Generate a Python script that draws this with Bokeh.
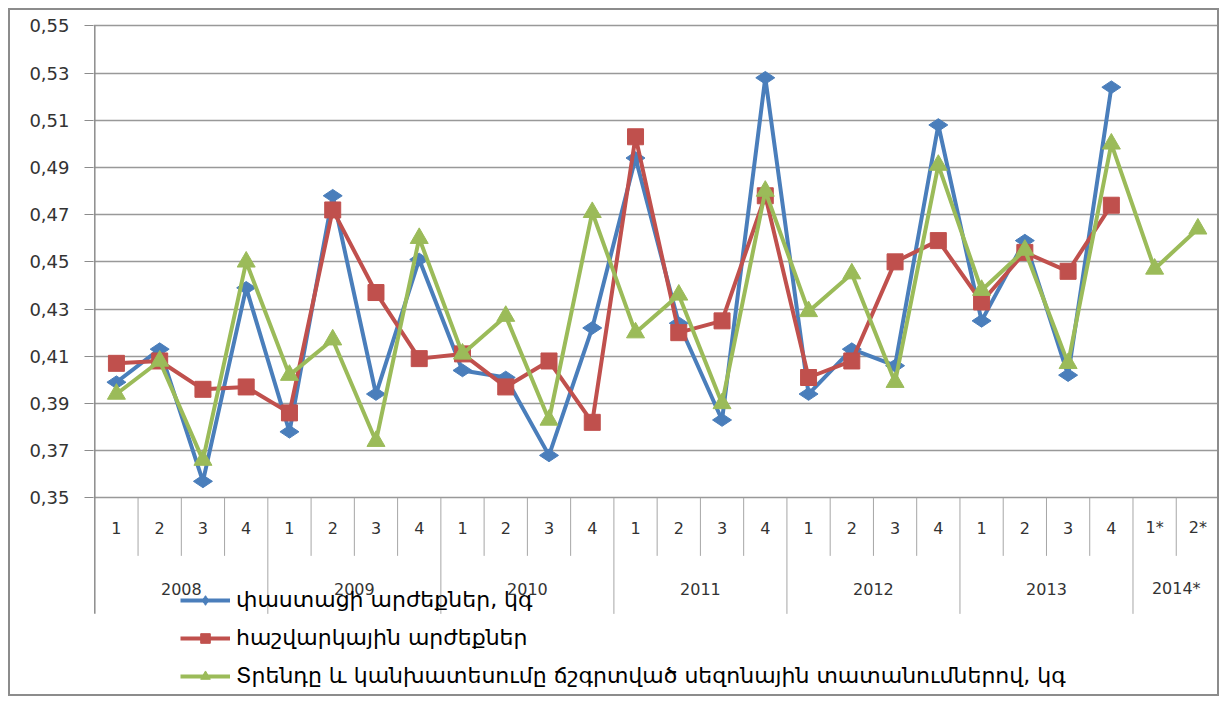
import math
from bokeh.plotting import figure
from bokeh.models import Range1d, FixedTicker, CustomJSTickFormatter, Legend, LegendItem
from bokeh.core.properties import value
from bokeh.embed import file_html
from bokeh.resources import INLINE

# ---------------- data ----------------
quarters = ["1", "2", "3", "4"] * 6 + ["1*", "2*"]
years = ["2008", "2009", "2010", "2011", "2012", "2013", "2014*"]
year_sizes = [4, 4, 4, 4, 4, 4, 2]

actual = [0.399, 0.413, 0.357, 0.439, 0.378, 0.478, 0.394, 0.451,
          0.404, 0.401, 0.368, 0.422, 0.494, 0.424, 0.383, 0.528,
          0.394, 0.413, 0.406, 0.508, 0.425, 0.459, 0.402, 0.524]
calculated = [0.407, 0.408, 0.396, 0.397, 0.386, 0.472, 0.437, 0.409,
              0.411, 0.397, 0.408, 0.382, 0.503, 0.420, 0.425, 0.478,
              0.401, 0.408, 0.450, 0.459, 0.433, 0.454, 0.446, 0.474]
trend = [0.394, 0.408, 0.366, 0.450, 0.402, 0.417, 0.374, 0.460,
         0.411, 0.427, 0.383, 0.471, 0.420, 0.436, 0.390, 0.480,
         0.429, 0.445, 0.399, 0.491, 0.438, 0.455, 0.407, 0.500,
         0.447, 0.464]

names = ["փաստացի արժեքներ, կգ",
         "հաշվարկային արժեքներ",
         "Տրենդը և կանխատեսումը ճշգրտված սեզոնային տատանումներով, կգ"]
y_ticks = [0.35, 0.37, 0.39, 0.41, 0.43, 0.45, 0.47, 0.49, 0.51, 0.53, 0.55]

# ---------------- layout ----------------
W, H = 1211, 688
PXU = 2360.0           # pixels per y unit
TOP = 13
BOT = 2
frame_h = H - TOP - BOT
y_end = 0.551
y_start = y_end - frame_h / PXU
y0 = min(y_ticks)

p = figure(width=W, height=H, output_backend="svg", toolbar_location=None,
           x_range=Range1d(-0.53, len(quarters) - 0.5),
           y_range=Range1d(y_start, y_end),
           min_border_left=83, min_border_right=2,
           min_border_top=TOP, min_border_bottom=BOT,
           x_axis_location=None)
p.styles = {"border": "2px solid #8c8c8c", "margin-left": "8px", "margin-top": "8px"}
p.outline_line_color = None
p.xgrid.visible = False

ax = p.yaxis[0]
ax.ticker = FixedTicker(ticks=y_ticks)
ax.formatter = CustomJSTickFormatter(code="return tick.toFixed(2).replace('.', ',');")
ax.axis_line_color = None
ax.major_tick_out = 9
ax.major_tick_in = 0
ax.major_tick_line_color = "#8c8c8c"
ax.minor_tick_line_color = None
ax.major_label_standoff = 15
ax.major_label_text_font = "DejaVu Sans"
ax.major_label_text_font_size = "18px"
ax.major_label_text_color = "#333333"

p.ygrid.grid_line_color = "#999999"
p.ygrid.grid_line_width = 1.5

# category axis drawn below the value range
q_label_y = y0 - 30 / PXU
yr_label_y = y0 - 91 / PXU
short_bot = y0 - 58 / PXU
long_bot = y0 - 116 / PXU

xs = list(range(len(quarters)))
p.text(x=xs, y=[q_label_y] * len(xs), text=quarters,
       text_align="center", text_baseline="middle",
       text_font=value("DejaVu Sans"), text_font_size="16px", text_color="#333333")

bounds = []
start = 0
centers = []
for n in year_sizes:
    centers.append(start + (n - 1) / 2)
    start += n
    bounds.append(start - 0.5)
p.text(x=centers, y=[yr_label_y] * len(centers), text=years,
       text_align="center", text_baseline="middle",
       text_font=value("DejaVu Sans"), text_font_size="16px", text_color="#333333")

short_x = [i + 0.5 for i in range(len(quarters) - 1) if (i + 0.5) not in bounds]
p.segment(x0=short_x, x1=short_x, y0=[y0] * len(short_x), y1=[short_bot] * len(short_x),
          line_color="#a6a6a6", line_width=1)
long_x = bounds[:-1]
p.segment(x0=long_x, x1=long_x, y0=[y0] * len(long_x), y1=[long_bot] * len(long_x),
          line_color="#a6a6a6", line_width=1)
edge_x = [-0.5, len(quarters) - 0.5]
p.segment(x0=edge_x, x1=edge_x, y0=[max(y_ticks)] * 2, y1=[long_bot] * 2,
          line_color="#8c8c8c", line_width=1.5)

# ---------------- series ----------------
colors = ["#4A7EBB", "#C0504D", "#9BBB59"]
series = [actual, calculated, trend]
markers = ["diamond", "square", "triangle"]
sizes = [19, 16, 18]
angles = [math.pi / 2, 0, 0]
items = []
for s, c, m, sz, a, nm in zip(series, colors, markers, sizes, angles, names):
    x = list(range(len(s)))
    ln = p.line(x, s, line_color=c, line_width=4)
    sc = p.scatter(x, s, marker=m, size=sz, angle=a, fill_color=c, line_color=c)
    items.append(LegendItem(label=nm, renderers=[ln, sc]))

legend = Legend(items=items, location=(87, 8), orientation="vertical",
                glyph_width=50, glyph_height=24, label_height=24, spacing=13,
                label_standoff=6, padding=0, margin=0,
                border_line_color=None, background_fill_alpha=0,
                label_text_font="DejaVu Sans", label_text_font_size="22px",
                label_text_color="#000000")
p.add_layout(legend, "center")

open("out.html", "w").write(file_html(p, INLINE))
